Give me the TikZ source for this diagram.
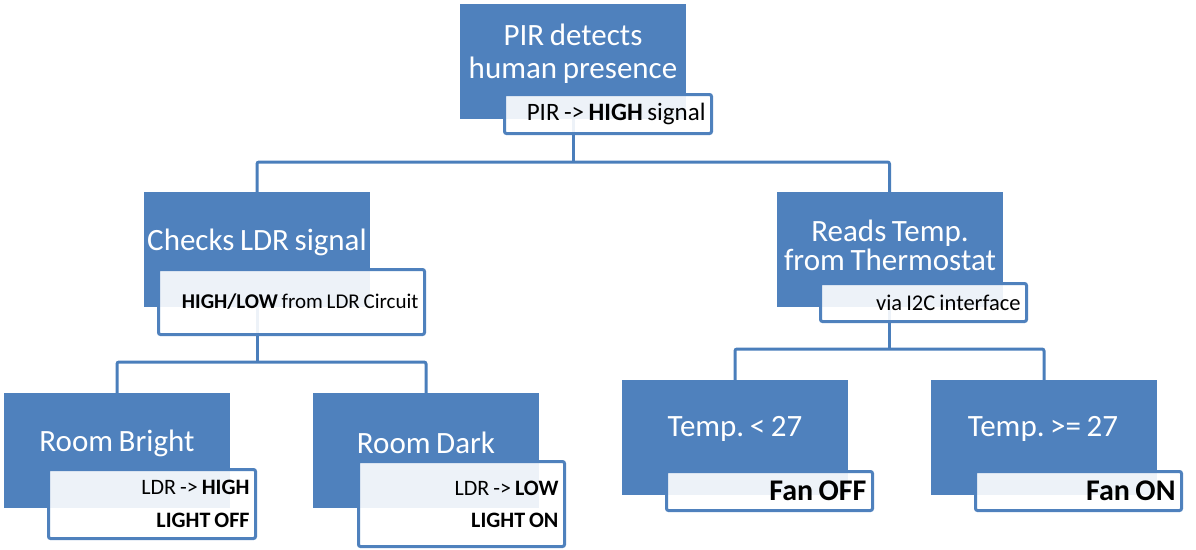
\documentclass[tikz,border=0pt]{standalone}
\usepackage{fontspec}
\setmainfont{Carlito}[WordSpace=0.8]
\frenchspacing
\definecolor{boxblue}{HTML}{4F81BD}
\definecolor{lineblue}{HTML}{4A7EBB}

\begin{document}
\begin{tikzpicture}[x=1pt,y=-1pt,
   task/.style={fill=boxblue,minimum width=226pt,minimum height=115pt,inner sep=0pt},
   title/.style={text=white,align=center,inner sep=0pt,font=\fontsize{31}{33}\selectfont},
   note/.style={draw=boxblue,line width=3pt,rounded corners=2pt,fill=white,fill opacity=.9,
      text opacity=1,inner xsep=6pt,inner ysep=0pt,align=flush right,text width=#1},
   note/.default=195pt,
   link/.style={draw=lineblue,line width=3pt,rounded corners=2pt}]
   \useasboundingbox (0,0) rectangle (1196,549);

   % blue boxes
   \node[task] (pir) at (573,61) {};
   \node[task] (ldr) at (257,249.5) {};
   \node[task] (reads) at (889.5,249.5) {};
   \node[task] (bright) at (117,450.5) {};
   \node[task] (dark) at (426,450.5) {};
   \node[task] (cool) at (735,437.5) {};
   \node[task] (hot) at (1044,437.5) {};

   % connectors
   \coordinate (j0) at (573,162);
   \coordinate (j1) at (257,362);
   \coordinate (j2) at (889.5,349);
   \draw[link] (pir.south) -- (j0);
   \draw[link] (ldr.north) |- (j0) -| (reads.north);
   \draw[link] (ldr.south) -- (j1);
   \draw[link] (bright.north) |- (j1) -| (dark.north);
   \draw[link] (reads.south) -- (j2);
   \draw[link] (cool.north) |- (j2) -| (hot.north);

   % white boxes
   \node[note,minimum height=39pt,font=\fontsize{25}{26}\selectfont] (pirN) at (608,114)
      {PIR -> \textbf{HIGH} signal};
   \node[note=254pt,minimum height=65pt,font=\fontsize{21}{24}\selectfont] (ldrN) at (291.5,302)
      {\textbf{HIGH/LOW} from LDR Circuit};
   \node[note=194pt,minimum height=38pt,font=\fontsize{22.5}{24}\selectfont] (readsN) at (923.5,302.5)
      {via I2C interface};
   \node[note,minimum height=69pt,font=\fontsize{22}{33}\selectfont] (brightN) at (152,504)
      {LDR -> \textbf{HIGH}\\\textbf{LIGHT OFF}};
   \node[note=194pt,minimum height=85pt,font=\fontsize{22}{32}\selectfont] (darkN) at (461.5,504)
      {LDR -> \textbf{LOW}\\\textbf{LIGHT ON}};
   \node[note=194pt,minimum height=39pt,font=\bfseries\fontsize{30}{30}\selectfont] (coolN) at (769.5,491)
      {Fan OFF};
   \node[note=194pt,minimum height=39pt,font=\bfseries\fontsize{30}{30}\selectfont] (hotN) at (1078.5,491)
      {Fan ON};

   % texts on the blue boxes
   \node[title] (pirT) at (573,53.5) {PIR detects\\human presence};
   \node[title] (ldrT) at (257,242) {Checks LDR signal};
   \node[title,font=\fontsize{31}{29}\selectfont] (readsT) at (890,245) {Reads Temp.\\from Thermostat};
   \node[title] (brightT) at (117,443) {Room Bright};
   \node[title] (darkT) at (426,443) {Room Dark};
   \node[title] (coolT) at (735,429) {Temp. < 27};
   \node[title] (hotT) at (1043,429) {Temp. >= 27};
\end{tikzpicture}
\end{document}
